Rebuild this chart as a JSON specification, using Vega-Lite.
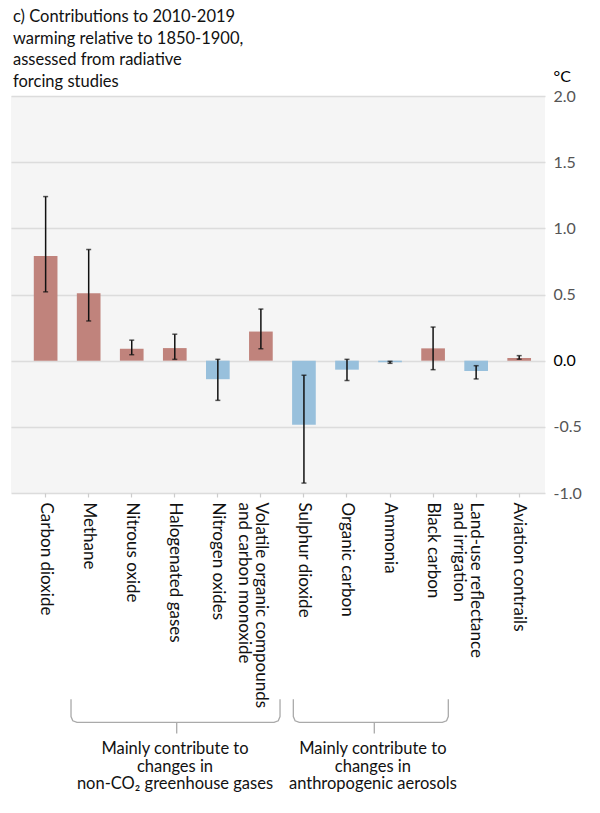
{
  "$schema": "https://vega.github.io/schema/vega-lite/v6.json",
  "padding": {"left": 11, "top": 9, "right": 5, "bottom": 5},
  "background": "white",
  "width": 534,
  "height": 397,
  "config": {
    "view": {"fill": "#f5f5f5", "stroke": null},
    "font": "Lato"
  },
  "title": {
    "text": ["c) Contributions to 2010-2019", "warming relative to 1850-1900,", "assessed from radiative", "forcing studies"],
    "anchor": "start", "frame": "group", "font": "Lato", "fontSize": 16.5, "fontWeight": "normal",
    "lineHeight": 21.5, "offset": -22, "dx": 2, "color": "#111"
  },
  "datasets": {
    "bars": [
      {"name": "Carbon dioxide", "value": 0.79, "lo": 0.52, "hi": 1.24},
      {"name": "Methane", "value": 0.51, "lo": 0.30, "hi": 0.84},
      {"name": "Nitrous oxide", "value": 0.09, "lo": 0.045, "hi": 0.155},
      {"name": "Halogenated gases", "value": 0.095, "lo": 0.01, "hi": 0.20},
      {"name": "Nitrogen oxides", "value": -0.14, "lo": -0.30, "hi": 0.01},
      {"name": "Volatile organic compounds and carbon monoxide", "value": 0.22, "lo": 0.09, "hi": 0.39},
      {"name": "Sulphur dioxide", "value": -0.485, "lo": -0.925, "hi": -0.11},
      {"name": "Organic carbon", "value": -0.068, "lo": -0.15, "hi": 0.01},
      {"name": "Ammonia", "value": -0.012, "lo": -0.02, "hi": -0.005},
      {"name": "Black carbon", "value": 0.093, "lo": -0.068, "hi": 0.254},
      {"name": "Land-use reflectance and irrigation", "value": -0.078, "lo": -0.138, "hi": -0.038},
      {"name": "Aviation contrails", "value": 0.02, "lo": 0.011, "hi": 0.038}
    ],
    "brackets": [
      {"group": "ghg", "order": 1, "bx": 0.588, "by": -2.558},
      {"group": "ghg", "order": 2, "bx": 0.588, "by": -2.689},
      {"group": "ghg", "order": 3, "bx": 0.629, "by": -2.721},
      {"group": "ghg", "order": 4, "bx": 0.727, "by": -2.734},
      {"group": "ghg", "order": 5, "bx": 5.304, "by": -2.734},
      {"group": "ghg", "order": 6, "bx": 5.402, "by": -2.721},
      {"group": "ghg", "order": 7, "bx": 5.443, "by": -2.689},
      {"group": "ghg", "order": 8, "bx": 5.443, "by": -2.558},
      {"group": "aer", "order": 1, "bx": 5.752, "by": -2.558},
      {"group": "aer", "order": 2, "bx": 5.752, "by": -2.689},
      {"group": "aer", "order": 3, "bx": 5.793, "by": -2.721},
      {"group": "aer", "order": 4, "bx": 5.891, "by": -2.734},
      {"group": "aer", "order": 5, "bx": 9.213, "by": -2.734},
      {"group": "aer", "order": 6, "bx": 9.311, "by": -2.721},
      {"group": "aer", "order": 7, "bx": 9.352, "by": -2.689},
      {"group": "aer", "order": 8, "bx": 9.352, "by": -2.558}
    ],
    "groups": [
      {"group": "ghg", "cx": 3.043, "tx": 3.003, "top": -2.734, "bottom": -2.817, "ty": -2.875, "label": "Mainly contribute to\nchanges in\nnon-CO₂ greenhouse gases"},
      {"group": "aer", "cx": 7.633, "tx": 7.60, "top": -2.734, "bottom": -2.817, "ty": -2.875, "label": "Mainly contribute to\nchanges in\nanthropogenic aerosols"}
    ]
  },
  "resolve": {"scale": {"x": "independent"}, "axis": {"x": "independent"}},
  "layer": [
    {
      "data": {"name": "bars"},
      "layer": [
        {
          "mark": {"type": "bar"},
          "encoding": {
            "x": {
              "field": "name", "type": "nominal", "sort": null,
              "scale": {"paddingInner": 0.45, "paddingOuter": 0.427, "align": 0.62},
              "axis": {
                "title": null, "labelAngle": 90, "labelAlign": "left", "labelBaseline": "middle",
                "labelFont": "Lato", "labelFontSize": 17, "labelColor": "#111", "labelPadding": 5,
                "labelLineHeight": 17,
                "labelExpr": "datum.label == 'Volatile organic compounds and carbon monoxide' ? ['Volatile organic compounds', 'and carbon monoxide'] : datum.label == 'Land-use reflectance and irrigation' ? ['Land-use reflectance', 'and irrigation'] : datum.label",
                "domain": false, "ticks": true, "tickColor": "#cccccc", "tickSize": 4, "tickWidth": 1.2,
                "grid": false, "labelLimit": 400
              }
            },
            "y": {
              "field": "value", "type": "quantitative",
              "scale": {"domain": [-1, 2], "nice": false, "zero": false},
              "axis": {
                "orient": "right", "values": [-1, -0.5, 0, 0.5, 1, 1.5, 2],
                "format": ".1f",
                "labelExpr": "replace(datum.label, '−', '-')",
                "labelFont": "Lato", "labelFontSize": 16, "labelPadding": 8,
                "labelColor": {"expr": "datum.value == 0 ? '#000000' : '#555555'"},
                "domain": false, "ticks": false,
                "grid": true, "gridColor": "#dcdcdc", "gridWidth": 1.5,
                "title": "°C", "titleAngle": 0, "titleX": 8, "titleY": -15,
                "titleAlign": "left", "titleBaseline": "alphabetic",
                "titleFont": "Lato", "titleFontSize": 16, "titleFontWeight": "normal", "titleColor": "#000"
              }
            },
            "color": {
              "condition": {"test": "datum.value < 0", "value": "#98c0dc"},
              "value": "#c0837c"
            }
          }
        },
        {
          "mark": {"type": "rule", "color": "#111", "strokeWidth": 1.5},
          "encoding": {
            "x": {"field": "name", "type": "nominal", "sort": null},
            "y": {"field": "lo", "type": "quantitative"},
            "y2": {"field": "hi"}
          }
        },
        {
          "mark": {"type": "tick", "color": "#111", "size": 5, "thickness": 1.5},
          "encoding": {
            "x": {"field": "name", "type": "nominal", "sort": null},
            "y": {"field": "lo", "type": "quantitative"}
          }
        },
        {
          "mark": {"type": "tick", "color": "#111", "size": 5, "thickness": 1.5},
          "encoding": {
            "x": {"field": "name", "type": "nominal", "sort": null},
            "y": {"field": "hi", "type": "quantitative"}
          }
        }
      ]
    },
    {
      "layer": [
        {
          "data": {"name": "brackets"},
          "mark": {"type": "line", "color": "#aaaaaa", "strokeWidth": 1.3, "clip": false},
          "encoding": {
            "x": {"field": "bx", "type": "quantitative", "scale": {"domain": [-0.806, 11.598], "nice": false, "zero": false}, "axis": null},
            "y": {"field": "by", "type": "quantitative"},
            "detail": {"field": "group"},
            "order": {"field": "order"}
          }
        },
        {
          "data": {"name": "groups"},
          "mark": {"type": "rule", "color": "#aaaaaa", "strokeWidth": 1.3, "clip": false},
          "encoding": {
            "x": {"field": "cx", "type": "quantitative"},
            "y": {"field": "top", "type": "quantitative"},
            "y2": {"field": "bottom"}
          }
        },
        {
          "data": {"name": "groups"},
          "mark": {"type": "text", "lineBreak": "\n", "align": "center", "baseline": "top", "font": "Lato", "fontSize": 16.5, "lineHeight": 17.5, "color": "#111", "clip": false},
          "encoding": {
            "x": {"field": "tx", "type": "quantitative"},
            "y": {"field": "ty", "type": "quantitative"},
            "text": {"field": "label"}
          }
        }
      ]
    }
  ]
}
